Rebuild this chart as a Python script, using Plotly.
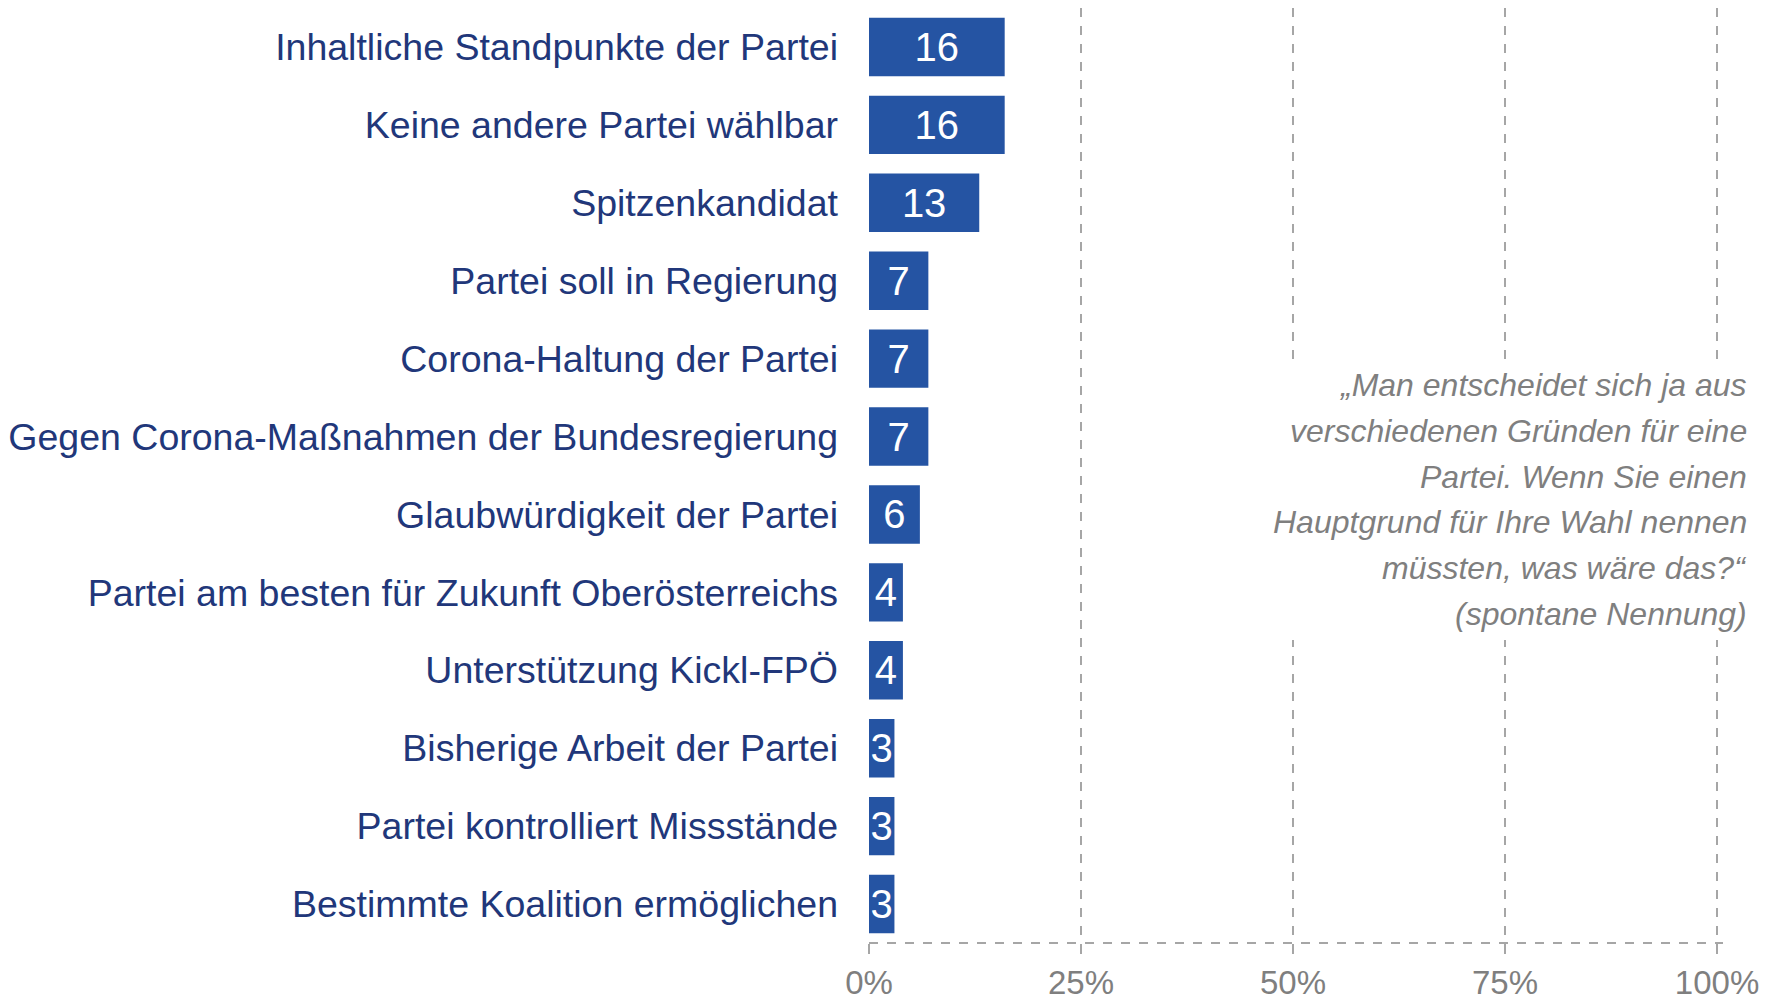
import plotly.graph_objects as go

categories = [
    "Inhaltliche Standpunkte der Partei",
    "Keine andere Partei wählbar",
    "Spitzenkandidat",
    "Partei soll in Regierung",
    "Corona-Haltung der Partei",
    "Gegen Corona-Maßnahmen der Bundesregierung",
    "Glaubwürdigkeit der Partei",
    "Partei am besten für Zukunft Oberösterreichs",
    "Unterstützung Kickl-FPÖ",
    "Bisherige Arbeit der Partei",
    "Partei kontrolliert Missstände",
    "Bestimmte Koalition ermöglichen",
]
values = [16, 16, 13, 7, 7, 7, 6, 4, 4, 3, 3, 3]
tick_vals = [0, 25, 50, 75, 100]
tick_text = ["0%", "25%", "50%", "75%", "100%"]
note_lines = [
    "„Man entscheidet sich ja aus",
    "verschiedenen Gründen für eine",
    "Partei. Wenn Sie einen",
    "Hauptgrund für Ihre Wahl nennen",
    "müssten, was wäre das?“",
    "(spontane Nennung)",
]

FONT = "Liberation Sans, Arial, sans-serif"

W, H = 1775, 1004
PL, PR, PT, PB = 869, 52, 8, 61
plot_bottom = H - PB
plot_h = H - PT - PB

fig = go.Figure(go.Bar(
    x=values, y=categories, orientation="h",
    marker=dict(color="#2554A3", line=dict(width=0)),
    width=0.75,
    text=[str(v) for v in values],
    textposition="inside", insidetextanchor="middle",
    constraintext="none",
    textfont=dict(family=FONT, size=40, color="white"),
    cliponaxis=False,
    hoverinfo="skip",
))

annotations = []
line_gap = 45.8 / plot_h
y_first = (plot_bottom - 385) / plot_h
for i, line in enumerate(note_lines):
    annotations.append(dict(
        text=line, xref="paper", yref="paper", x=1.031, y=y_first - i * line_gap,
        xanchor="right", yanchor="middle", align="right", showarrow=False,
        font=dict(family=FONT, size=32, color="#7F7F7F", style="italic"),
    ))

fig.update_layout(
    width=W, height=H,
    margin=dict(l=PL, r=PR, t=PT, b=PB, pad=0),
    paper_bgcolor="white", plot_bgcolor="white",
    showlegend=False,
    xaxis=dict(
        range=[0, 100.7], tickvals=tick_vals, ticktext=tick_text,
        showgrid=True, gridcolor="#A6A6A6", gridwidth=2, griddash="dash",
        zeroline=False, showline=False,
        ticks="outside", ticklen=10, tickcolor="#A6A6A6", tickwidth=2,
        ticklabelstandoff=0,
        tickfont=dict(family=FONT, size=33, color="#7F7F7F"),
        automargin=False,
        fixedrange=True,
    ),
    yaxis=dict(
        categoryorder="array", categoryarray=categories,
        autorange="reversed",
        showgrid=False, zeroline=False, showline=False, ticks="",
        ticklabelstandoff=30,
        tickfont=dict(family=FONT, size=37.5, color="#21377A"),
        automargin=False,
        fixedrange=True,
    ),
    shapes=[
        dict(type="rect", xref="paper", yref="paper",
             x0=0.44, x1=1.06,
             y0=(plot_bottom - 640) / plot_h, y1=(plot_bottom - 360) / plot_h,
             fillcolor="white", line=dict(width=0), layer="above"),
        dict(type="line", xref="paper", yref="paper", x0=0, x1=1, y0=0, y1=0,
             line=dict(color="#A6A6A6", width=2, dash="dash"), layer="above"),
    ],
    annotations=annotations,
)

fig.write_html(
    "out.html",
    config={"displayModeBar": False},
    post_script="document.body.style.margin='0';document.body.style.overflow='hidden';",
)
